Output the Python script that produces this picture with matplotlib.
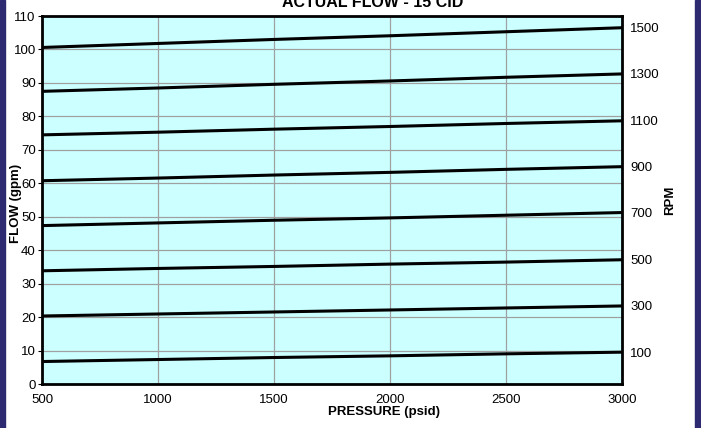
import matplotlib
matplotlib.use("Agg")
import matplotlib.pyplot as plt
from matplotlib.patches import Rectangle

plt.rcParams['font.family'] = ['Liberation Sans', 'DejaVu Sans']

# pressure (psid) and flow (gpm) for each speed
pressure = [500, 1000, 1500, 2000, 2500, 3000]
rpm = [100, 300, 500, 700, 900, 1100, 1300, 1500]
flow_100 = [6.8, 7.4, 8.0, 8.5, 9.1, 9.6]
flow_300 = [20.4, 21.0, 21.6, 22.2, 22.8, 23.4]
flow_500 = [33.9, 34.6, 35.2, 35.9, 36.5, 37.2]
flow_700 = [47.4, 48.2, 49.0, 49.7, 50.5, 51.3]
flow_900 = [60.8, 61.6, 62.5, 63.3, 64.2, 65.0]
flow_1100 = [74.5, 75.3, 76.2, 77.0, 77.9, 78.7]
flow_1300 = [87.5, 88.5, 89.6, 90.6, 91.7, 92.7]
flow_1500 = [100.6, 101.8, 103.0, 104.1, 105.3, 106.5]
flows = [flow_100, flow_300, flow_500, flow_700, flow_900, flow_1100, flow_1300, flow_1500]

fig = plt.figure(figsize=(7.01, 4.28), dpi=100)
fig.patch.set_facecolor('white')
navy = '#2e2a72'
fig.patches.append(Rectangle((0, 0), 5 / 701, 1, transform=fig.transFigure, color=navy, zorder=-1))
fig.patches.append(Rectangle((695 / 701, 0), 6 / 701, 1, transform=fig.transFigure, color=navy, zorder=-1))

ax = fig.add_axes([0.0599, 0.1021, 0.8274, 0.8605])
ax.set_facecolor('#ccffff')
for f in flows:
    ax.plot(pressure, f, color='black', lw=2.2, solid_capstyle='butt')

ax.set_xlim(500, 3000)
ax.set_ylim(0, 110)
ax.set_xticks(range(500, 3001, 500))
ax.set_yticks(range(0, 111, 10))
ax.grid(True, color='#a0a0a0', lw=0.9)
ax.set_axisbelow(True)
for s in ax.spines.values():
    s.set_linewidth(2.0)
ax.tick_params(axis='both', labelsize=9.5, colors='black', length=3, width=0.8, pad=1.5)
ax.tick_params(axis='x', length=0, pad=7)

ax.set_xlabel('PRESSURE (psid)', fontsize=9.5, fontweight='bold')
ax.xaxis.set_label_coords(0.59, -0.06)
ax.set_ylabel('FLOW (gpm)', fontsize=9.5, fontweight='bold')
ax.yaxis.set_label_coords(-0.035, 0.49)

ax2 = ax.twinx()
ax2.set_ylim(0, 110)
ax2.set_yticks([f[-1] for f in flows])
ax2.set_yticklabels([str(r) for r in rpm])
ax2.tick_params(axis='y', length=0, labelsize=9.5, pad=6)
ax2.set_ylabel('RPM', fontsize=9.5, fontweight='bold')
ax2.yaxis.set_label_coords(1.072, 0.5)
for s in ax2.spines.values():
    s.set_visible(False)

fig.text(0.532, 0.994, 'ACTUAL FLOW - 15 CID', fontsize=11.5, fontweight='bold',
         ha='center', va='center')

fig.savefig('out.png', dpi=100, facecolor='white')
